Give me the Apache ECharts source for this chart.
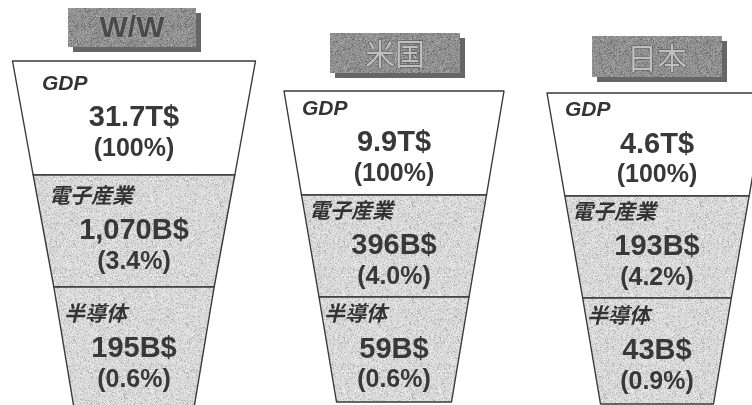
<!DOCTYPE html>
<html>
<head>
<meta charset="utf-8">
<script src="https://cdn.jsdelivr.net/npm/echarts@6/dist/echarts.min.js"></script>
<style>
  html, body { margin: 0; padding: 0; background: #ffffff; }
  #chart { width: 752px; height: 405px; }
</style>
</head>
<body>
<div id="chart"></div>
<script>
// Regions and the three economic tiers shown in each funnel
const regions = ['W/W', '米国', '日本'];
const stages = ['GDP', '電子産業', '半導体'];

// GDP in trillions of dollars
const gdpTrillion = [31.7, 9.9, 4.6];
// Electronics industry in billions of dollars, and its share of GDP (%)
const electronicsBillion = [1070, 396, 193];
const electronicsShare = [3.4, 4.0, 4.2];
// Semiconductors in billions of dollars, and share of GDP (%)
const semiconductorBillion = [195, 59, 43];
const semiconductorShare = [0.6, 0.6, 0.9];

// Layout of each funnel (centre x, top y, tier heights, top width, bottom width)
const funnelLayout = [
  { cx: 134, top: 61, tiers: [114, 112, 124], topW: 243, bottomW: 119 },
  { cx: 394, top: 91, tiers: [104, 102, 105], topW: 220, bottomW: 115 },
  { cx: 657, top: 93, tiers: [103, 102, 106], topW: 220, bottomW: 113 }
];
// Header plates above each funnel
const headerLayout = [
  { x: 68, y: 8, w: 128, h: 39 },
  { x: 330, y: 33, w: 130, h: 40 },
  { x: 592, y: 36, w: 130, h: 41 }
];
// Title text box width per tier (title sits at the left of this box)
const titleBoxWidth = [184, 170, 140];

const FONT = '"Liberation Sans", Arial, "Noto Sans CJK JP", sans-serif';

// Grainy fill made from a deterministic speckle pattern
function grain(base, dark, light, seed, count) {
  const size = 96;
  const c = document.createElement('canvas');
  c.width = c.height = size;
  const g = c.getContext('2d');
  g.fillStyle = base;
  g.fillRect(0, 0, size, size);
  let s = seed;
  const next = () => (s = (s * 16807) % 2147483647) / 2147483647;
  for (let i = 0; i < count; i++) {
    const x = Math.floor(next() * size);
    const y = Math.floor(next() * size);
    g.fillStyle = next() < 0.5 ? dark : light;
    g.fillRect(x, y, 1, 1);
  }
  return { image: c, repeat: 'repeat' };
}

const tierFill = grain('#d8d8d8', '#b4b4b4', '#eeeeee', 12345, 2600);
const plateFill = grain('#8f8f8f', '#6f6f6f', '#aaaaaa', 777, 3000);

function amountText(r, k) {
  if (k === 0) return gdpTrillion[r].toFixed(1) + 'T$';
  const v = k === 1 ? electronicsBillion[r] : semiconductorBillion[r];
  return v.toLocaleString('en-US') + 'B$';
}
function shareText(r, k) {
  if (k === 0) return '100%';
  const v = k === 1 ? electronicsShare[r] : semiconductorShare[r];
  return v.toFixed(1) + '%';
}

const series = regions.map((region, r) => {
  const L = funnelLayout[r];
  const total = L.tiers.reduce((a, b) => a + b, 0);
  return {
    type: 'funnel',
    name: region,
    sort: 'none',
    gap: 0,
    min: 0,
    max: stages.length,
    left: L.cx - L.topW / 2,
    width: L.topW,
    top: L.top,
    height: total,
    maxSize: L.topW,
    minSize: L.bottomW,
    itemStyle: { borderColor: '#3a3a3a', borderWidth: 1.4 },
    emphasis: { disabled: true },
    labelLine: { show: false },
    label: {
      show: true,
      position: 'inside',
      padding: [0, 0, 6, 0],
      formatter: (p) =>
        '{t|' + p.name + '}\n{v|' + amountText(r, p.dataIndex) + '}\n{p|(' + shareText(r, p.dataIndex) + ')}',
      rich: {
        t: { fontFamily: FONT, fontSize: 21, fontStyle: 'italic', fontWeight: 'bold', color: '#333333', align: 'left', lineHeight: 38 },
        v: { fontFamily: FONT, fontSize: 29, fontWeight: 'bold', color: '#383838', align: 'center', lineHeight: 30 },
        p: { fontFamily: FONT, fontSize: 25, fontWeight: 'bold', color: '#383838', align: 'center', lineHeight: 32 }
      }
    },
    data: stages.map((stage, k) => ({
      name: stage,
      // tier order sets the trapezoid width: widest at the top
      value: stages.length - k,
      itemStyle: { color: k === 0 ? '#ffffff' : tierFill, height: L.tiers[k] },
      label: { width: titleBoxWidth[k] }
    }))
  };
});

const graphics = [];
regions.forEach((region, r) => {
  const H = headerLayout[r];
  graphics.push({
    type: 'rect', silent: true,
    shape: { x: H.x + 5, y: H.y + 5, width: H.w, height: H.h },
    style: { fill: '#666666' }
  });
  graphics.push({
    type: 'rect', silent: true,
    shape: { x: H.x, y: H.y, width: H.w, height: H.h },
    style: { fill: plateFill }
  });
  const latin = /^[\x00-\x7f]+$/.test(region);
  graphics.push({
    type: 'text', silent: true,
    x: H.x + H.w / 2, y: H.y + H.h / 2 + 1,
    style: latin ? {
      text: region, fill: '#4a4a4a', font: 'bold 30px ' + FONT,
      align: 'center', verticalAlign: 'middle', stroke: '#a8a8a8', lineWidth: 1
    } : {
      text: region, fill: '#c0c0c0', font: '30px "Noto Sans CJK JP", sans-serif',
      align: 'center', verticalAlign: 'middle', stroke: '#505050', lineWidth: 1
    }
  });
});

const chart = echarts.init(document.getElementById('chart'), null, { renderer: 'canvas' });
chart.setOption({
  backgroundColor: '#ffffff',
  animation: false,
  series: series,
  graphic: graphics
});
</script>
</body>
</html>
